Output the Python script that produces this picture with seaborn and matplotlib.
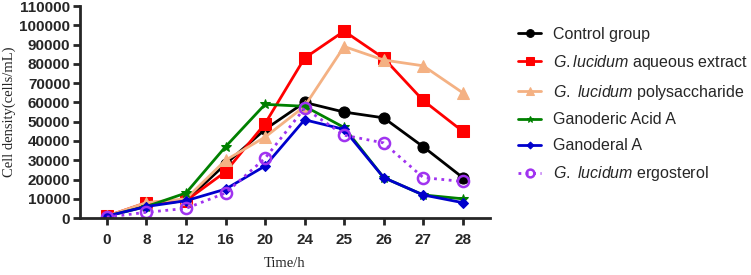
import seaborn as sns
import matplotlib.pyplot as plt
import pandas as pd

sns.set_style('ticks')
plt.rcParams['font.family'] = ['Liberation Sans', 'DejaVu Sans']
plt.rcParams['mathtext.fontset'] = 'custom'
plt.rcParams['mathtext.it'] = 'Liberation Sans:italic'
plt.rcParams['mathtext.rm'] = 'Liberation Sans'

# Time points (categorical on the x axis)
times = ['0', '8', '12', '16', '20', '24', '25', '26', '27', '28']

control = [1000, 7000, 9000, 28000, 46000, 60000, 55000, 52000, 37000, 21000]
aqueous = [1000, 8000, 9000, 24000, 49000, 83000, 97000, 83000, 61000, 45000]
polysacch = [1000, 8000, 10000, 30000, 42000, 58000, 89000, 82000, 79000, 65000]
ganoderic = [1000, 6000, 13000, 37000, 59000, 58000, 47000, 21000, 12000, 10000]
ganoderal = [1000, 6000, 9000, 15000, 27000, 51000, 46000, 21000, 12000, 8000]
ergosterol = [500, 3000, 5000, 13000, 31000, 57000, 43000, 39000, 21000, 19000]

labels = ['Control group',
          r'$\it{G.lucidum}$ aqueous extract',
          r'$\it{G.}$ $\it{lucidum}$ polysaccharide',
          'Ganoderic Acid A',
          'Ganoderal A',
          r'$\it{G.}$ $\it{lucidum}$ ergosterol']
series = [control, aqueous, polysacch, ganoderic, ganoderal, ergosterol]

styles = [
    dict(color='black', marker='o', markersize=8, linestyle='-'),
    dict(color='#FF0000', marker='s', markersize=8, linestyle='-'),
    dict(color='#F4B183', marker='^', markersize=8, linestyle='-'),
    dict(color='#008000', marker='*', markersize=7, linestyle='-'),
    dict(color='#0000CC', marker='D', markersize=5, linestyle='-'),
    dict(color='#A033F0', marker='o', markersize=8, linestyle=':',
         markerfacecolor='none', markeredgewidth=1.8),
]

fig = plt.figure(figsize=(7.51, 2.75), dpi=100)
ax = fig.add_axes([0.1065, 0.207, 0.5455, 0.771])

for lab, vals, st in zip(labels, series, styles):
    df = pd.DataFrame({'pos': range(len(times)), 'density': vals})
    sns.lineplot(x='pos', y='density', data=df, ax=ax, label=lab,
                 linewidth=2, markeredgecolor=st['color'], **st)

ax.set_xticks(range(len(times)))
ax.set_xticklabels(times)
ax.set_xlim(-0.68, 9.68)
ax.set_ylim(0, 110000)
ax.set_yticks(range(0, 110001, 10000))
for t in ax.get_xticklabels() + ax.get_yticklabels():
    t.set_fontweight('bold')
ax.tick_params(labelsize=11, width=2, length=5, pad=2)
ax.tick_params(axis='x', pad=6)

ax.set_xlabel('Time/h', family='Liberation Serif', fontsize=10.5, labelpad=7)
ax.set_ylabel('Cell density(cells/mL)', family='Liberation Serif',
              fontsize=10.5, labelpad=2)

sns.despine(ax=ax)
for s in ['left', 'bottom']:
    ax.spines[s].set_linewidth(2)

leg = ax.legend(loc='upper left', bbox_to_anchor=(1.035, 0.97), frameon=False,
                fontsize=11.5, handlelength=1.4, labelspacing=0.68,
                handletextpad=0.75, markerscale=0.7)

fig.savefig('out.png', dpi=100)
